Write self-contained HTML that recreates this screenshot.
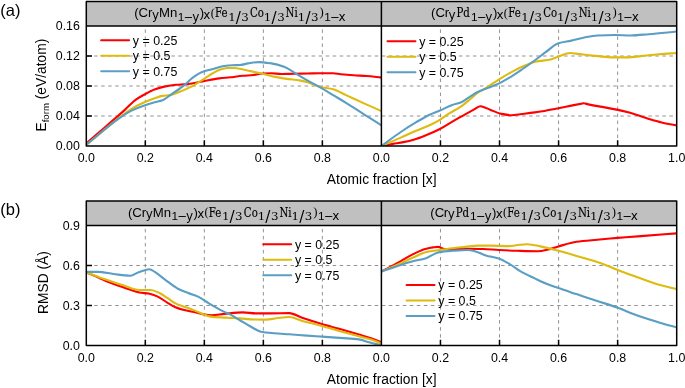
<!DOCTYPE html><html><head><meta charset="utf-8"><title>figure</title>
<style>html,body{margin:0;padding:0;background:#fff}svg{display:block}text{font-family:"Liberation Sans",Arial,sans-serif;fill:#000}</style></head><body>
<svg width="685" height="388" viewBox="0 0 685 388">
<rect width="685" height="388" fill="#fff"/>
<defs>
<clipPath id="aL"><rect x="86.3" y="26.0" width="295.09999999999997" height="120.0"/></clipPath>
<clipPath id="aR"><rect x="381.4" y="26.0" width="295.30000000000007" height="120.0"/></clipPath>
<clipPath id="bL"><rect x="86.3" y="225.5" width="295.09999999999997" height="120.0"/></clipPath>
<clipPath id="bR"><rect x="381.4" y="225.5" width="295.30000000000007" height="120.0"/></clipPath>
</defs>
<rect x="86.3" y="1.5" width="590.4000000000001" height="24.5" fill="#C0C0C0"/>
<path d="M145.32,146.0V26.0 M204.34,146.0V26.0 M263.36,146.0V26.0 M322.38,146.0V26.0 M440.46,146.0V26.0 M499.52,146.0V26.0 M558.58,146.0V26.0 M617.64,146.0V26.0 M86.3,116.00H676.7 M86.3,86.00H676.7 M86.3,56.00H676.7" stroke="#777" stroke-width="0.8" stroke-dasharray="3.5 3.515" stroke-dashoffset="-0.85" fill="none"/>
<path d="M86.30,143.40C90.87,139.47 95.43,135.55 100.00,131.60C105.83,126.56 111.67,121.55 117.50,116.40C120.03,114.16 122.57,111.90 125.10,109.60C128.70,106.33 132.30,102.21 135.90,99.60C138.83,97.47 141.77,95.91 144.70,94.30C147.97,92.51 151.23,90.59 154.50,89.40C157.77,88.21 161.03,87.26 164.30,86.60C168.20,85.81 172.10,85.17 176.00,84.80C179.33,84.48 182.67,84.41 186.00,84.10C189.33,83.79 192.67,83.25 196.00,82.70C198.57,82.28 201.13,81.68 203.70,81.20C208.87,80.23 214.03,79.06 219.20,78.40C222.80,77.94 226.40,77.69 230.00,77.30C234.30,76.83 238.60,76.20 242.90,75.80C246.33,75.48 249.77,75.35 253.20,75.00C256.63,74.65 260.07,73.71 263.50,73.50C266.07,73.35 268.63,73.20 271.20,73.20C274.63,73.20 278.07,74.00 281.50,74.00C285.80,74.00 290.10,73.78 294.40,73.70C298.70,73.62 303.00,73.58 307.30,73.50C311.60,73.42 315.90,73.20 320.20,73.20C324.50,73.20 328.80,73.20 333.10,73.20C335.67,73.20 338.23,73.93 340.80,74.20C345.10,74.65 349.40,75.01 353.70,75.30C358.00,75.59 362.30,75.69 366.60,76.00C371.53,76.35 376.47,77.07 381.40,77.60" fill="none" stroke="#FF0000" stroke-width="2.1" stroke-linejoin="round" clip-path="url(#aL)"/>
<path d="M86.30,145.00C97.43,135.80 108.57,125.94 119.70,117.40C123.63,114.38 127.57,111.15 131.50,108.80C135.80,106.23 140.10,104.20 144.40,102.30C147.83,100.78 151.27,99.36 154.70,98.20C157.30,97.33 159.90,96.30 162.50,95.90C165.07,95.51 167.63,95.51 170.20,95.10C172.77,94.69 175.33,93.46 177.90,92.50C182.20,90.88 186.50,89.07 190.80,86.90C195.10,84.73 199.40,81.65 203.70,79.10C208.87,76.04 214.03,71.94 219.20,70.10C221.77,69.18 224.33,68.00 226.90,68.00C229.47,68.00 232.03,68.00 234.60,68.00C236.33,68.00 238.07,68.50 239.80,68.80C243.40,69.43 247.00,70.31 250.60,71.10C254.90,72.04 259.20,73.00 263.50,74.00C267.80,75.00 272.10,76.23 276.40,77.10C279.83,77.79 283.27,78.42 286.70,78.90C291.00,79.51 295.30,79.71 299.60,80.40C302.17,80.81 304.73,81.48 307.30,82.20C311.60,83.40 315.90,85.87 320.20,86.90C324.50,87.93 328.80,88.10 333.10,89.20C337.40,90.30 341.70,93.13 346.00,95.10C352.00,97.85 358.00,100.69 364.00,103.40C369.80,106.02 375.60,108.53 381.40,111.10" fill="none" stroke="#DDBB10" stroke-width="2.1" stroke-linejoin="round" clip-path="url(#aL)"/>
<path d="M86.30,144.60C97.43,135.70 108.57,125.51 119.70,117.90C123.63,115.21 127.57,112.53 131.50,110.60C135.80,108.49 140.10,106.87 144.40,105.40C147.83,104.22 151.27,103.25 154.70,102.30C157.30,101.58 159.90,101.27 162.50,100.30C165.07,99.35 167.63,96.86 170.20,95.10C174.50,92.15 178.80,89.45 183.10,86.10C186.53,83.43 189.97,79.55 193.40,77.10C195.97,75.27 198.53,73.41 201.10,72.40C205.40,70.70 209.70,69.98 214.00,68.80C217.43,67.85 220.87,66.46 224.30,66.00C226.87,65.66 229.43,65.43 232.00,65.30C234.77,65.16 237.53,65.17 240.30,65.00C242.87,64.84 245.43,63.81 248.00,63.40C251.47,62.85 254.93,62.10 258.40,62.10C262.67,62.10 266.93,62.77 271.20,63.40C275.50,64.03 279.80,65.23 284.10,66.80C287.53,68.06 290.97,70.69 294.40,72.70C298.70,75.21 303.00,77.96 307.30,80.40C311.60,82.84 315.90,84.96 320.20,87.40C324.50,89.84 328.80,92.53 333.10,95.10C337.40,97.67 341.70,100.14 346.00,102.80C352.00,106.51 358.00,110.59 364.00,114.40C369.80,118.08 375.60,121.67 381.40,125.30" fill="none" stroke="#5A9EC4" stroke-width="2.1" stroke-linejoin="round" clip-path="url(#aL)"/>
<path d="M381.40,146.00C385.27,145.30 389.13,144.58 393.00,143.90C396.47,143.29 399.93,142.79 403.40,142.10C406.83,141.42 410.27,140.67 413.70,139.70C417.97,138.49 422.23,136.72 426.50,135.00C430.80,133.26 435.10,131.39 439.40,129.20C443.70,127.01 448.00,124.08 452.30,121.60C456.60,119.12 460.90,116.65 465.20,114.30C467.77,112.90 470.33,111.67 472.90,110.20C474.70,109.17 476.50,107.67 478.30,106.90C478.97,106.62 479.63,106.20 480.30,106.20C481.07,106.20 481.83,106.50 482.60,106.70C485.27,107.41 487.93,108.87 490.60,109.90C494.03,111.22 497.47,112.98 500.90,113.70C504.33,114.42 507.77,115.20 511.20,115.20C514.77,115.20 518.33,114.42 521.90,114.00C526.20,113.49 530.50,113.01 534.80,112.40C536.70,112.13 538.60,111.82 540.50,111.50C546.50,110.49 552.50,109.36 558.50,108.20C562.80,107.37 567.10,106.45 571.40,105.60C575.13,104.87 578.87,104.20 582.60,103.45C583.00,103.37 583.40,103.20 583.80,103.20C584.20,103.20 584.60,103.40 585.00,103.50C587.33,104.06 589.67,104.63 592.00,105.10C595.43,105.79 598.87,106.25 602.30,106.90C610.90,108.52 619.50,110.11 628.10,112.30C634.10,113.83 640.10,116.21 646.10,118.00C651.27,119.54 656.43,121.19 661.60,122.40C666.63,123.58 671.67,124.40 676.70,125.40" fill="none" stroke="#FF0000" stroke-width="2.1" stroke-linejoin="round" clip-path="url(#aR)"/>
<path d="M381.40,146.00C387.87,143.20 394.33,140.45 400.80,137.60C405.93,135.34 411.07,132.92 416.20,130.70C421.37,128.46 426.53,126.66 431.70,124.20C434.27,122.98 436.83,121.62 439.40,120.10C442.83,118.06 446.27,115.22 449.70,113.10C453.17,110.96 456.63,109.50 460.10,107.20C463.53,104.92 466.97,101.82 470.40,99.00C472.97,96.89 475.53,94.25 478.10,92.50C480.67,90.75 483.23,89.66 485.80,88.10C490.10,85.48 494.40,82.26 498.70,79.60C503.87,76.40 509.03,73.27 514.20,70.60C517.80,68.74 521.40,66.97 525.00,65.50C528.43,64.10 531.87,62.56 535.30,61.80C540.47,60.65 545.63,60.58 550.80,59.40C553.37,58.82 555.93,57.46 558.50,56.60C562.37,55.30 566.23,53.00 570.10,53.00C573.10,53.00 576.10,53.65 579.10,54.00C583.40,54.50 587.70,55.13 592.00,55.60C595.43,55.97 598.87,56.34 602.30,56.60C606.60,56.93 610.90,57.40 615.20,57.40C619.50,57.40 623.80,57.40 628.10,57.40C632.40,57.40 636.70,56.53 641.00,56.10C647.00,55.50 653.00,54.81 659.00,54.30C664.90,53.80 670.80,53.43 676.70,53.00" fill="none" stroke="#DDBB10" stroke-width="2.1" stroke-linejoin="round" clip-path="url(#aR)"/>
<path d="M381.40,146.00C387.87,141.33 394.33,136.36 400.80,132.00C405.93,128.54 411.07,125.25 416.20,122.20C420.50,119.65 424.80,117.01 429.10,115.00C432.53,113.39 435.97,112.28 439.40,110.80C443.70,108.95 448.00,106.40 452.30,104.90C455.30,103.85 458.30,103.50 461.30,102.30C464.33,101.09 467.37,98.28 470.40,96.40C472.97,94.81 475.53,93.03 478.10,91.80C480.67,90.57 483.23,89.70 485.80,88.70C489.23,87.36 492.67,86.31 496.10,84.80C500.40,82.91 504.70,80.43 509.00,77.90C513.30,75.37 517.60,72.42 521.90,69.50C526.37,66.47 530.83,63.28 535.30,60.00C538.73,57.48 542.17,54.70 545.60,52.20C549.90,49.07 554.20,44.54 558.50,43.20C562.80,41.86 567.10,41.54 571.40,40.60C575.70,39.66 580.00,38.31 584.30,37.50C588.60,36.69 592.90,35.71 597.20,35.50C603.20,35.21 609.20,35.00 615.20,35.00C620.37,35.00 625.53,35.50 630.70,35.50C636.70,35.50 642.70,34.69 648.70,34.20C658.03,33.44 667.37,32.40 676.70,31.50" fill="none" stroke="#5A9EC4" stroke-width="2.1" stroke-linejoin="round" clip-path="url(#aR)"/>
<path d="M145.32,146.0v-5.7 M204.34,146.0v-5.7 M263.36,146.0v-5.7 M322.38,146.0v-5.7 M440.46,146.0v-5.7 M499.52,146.0v-5.7 M558.58,146.0v-5.7 M617.64,146.0v-5.7 M86.3,116.00h5.7 M86.3,86.00h5.7 M86.3,56.00h5.7" stroke="#000" stroke-width="1.5" fill="none"/>
<path d="M86.3,1.5H676.7V146.0H86.3Z M86.3,26.0H676.7 M381.4,1.5V146.0" stroke="#000" stroke-width="1.5" fill="none" stroke-linejoin="round"/>
<text x="79.9" y="150.30" text-anchor="end" font-size="12.4">0.00</text>
<text x="79.9" y="120.30" text-anchor="end" font-size="12.4">0.04</text>
<text x="79.9" y="90.30" text-anchor="end" font-size="12.4">0.08</text>
<text x="79.9" y="60.30" text-anchor="end" font-size="12.4">0.12</text>
<text x="79.9" y="30.30" text-anchor="end" font-size="12.4">0.16</text>
<text x="86.30" y="162.10" text-anchor="middle" font-size="12.4">0.0</text>
<text x="145.32" y="162.10" text-anchor="middle" font-size="12.4">0.2</text>
<text x="204.34" y="162.10" text-anchor="middle" font-size="12.4">0.4</text>
<text x="263.36" y="162.10" text-anchor="middle" font-size="12.4">0.6</text>
<text x="322.38" y="162.10" text-anchor="middle" font-size="12.4">0.8</text>
<text x="381.40" y="162.10" text-anchor="middle" font-size="12.4">0.0</text>
<text x="440.46" y="162.10" text-anchor="middle" font-size="12.4">0.2</text>
<text x="499.52" y="162.10" text-anchor="middle" font-size="12.4">0.4</text>
<text x="558.58" y="162.10" text-anchor="middle" font-size="12.4">0.6</text>
<text x="617.64" y="162.10" text-anchor="middle" font-size="12.4">0.8</text>
<text x="676.70" y="162.10" text-anchor="middle" font-size="12.4">1.0</text>
<text x="381.7" y="184.40" text-anchor="middle" font-size="13.8">Atomic fraction [x]</text>
<text><tspan x="134.18" y="17.10" font-family="Liberation Sans, Arial, sans-serif" font-size="13.2">(C</tspan><tspan x="147.93" y="17.10" font-family="Liberation Sans, Arial, sans-serif" font-size="13.2">r</tspan><tspan x="151.94" y="18.80" font-family="DejaVu Sans, sans-serif" font-size="12">y</tspan><tspan x="158.92" y="17.10" font-family="Liberation Sans, Arial, sans-serif" font-size="13.2">Mn</tspan><tspan x="177.75" y="20.90" font-family="Liberation Sans, Arial, sans-serif" font-size="11.8">1</tspan><tspan x="183.78" y="20.90" font-family="DejaVu Sans, sans-serif" font-size="11.5">−</tspan><tspan x="192.14" y="20.90" font-family="DejaVu Sans, sans-serif" font-size="12">y</tspan><tspan x="199.82" y="17.10" font-family="Liberation Sans, Arial, sans-serif" font-size="13.2">)</tspan><tspan x="203.35" y="18.80" font-family="DejaVu Sans, sans-serif" font-size="12">x</tspan><tspan x="210.76" y="16.50" font-family="Liberation Serif, serif" font-size="12.2">(</tspan><tspan x="235.80" y="22.60" font-family="DejaVu Sans, sans-serif" font-size="15.2">/</tspan><tspan x="271.40" y="22.60" font-family="DejaVu Sans, sans-serif" font-size="15.2">/</tspan><tspan x="305.50" y="22.60" font-family="DejaVu Sans, sans-serif" font-size="15.2">/</tspan><tspan x="319.49" y="16.30" font-family="Liberation Serif, serif" font-size="12.7">)</tspan><tspan x="324.20" y="20.90" font-family="Liberation Sans, Arial, sans-serif" font-size="11.8">1</tspan><tspan x="330.18" y="20.90" font-family="DejaVu Sans, sans-serif" font-size="11.5">−</tspan><tspan x="338.55" y="20.90" font-family="DejaVu Sans, sans-serif" font-size="12">x</tspan></text><text transform="translate(215.04,17.10) scale(0.81,1)" style="font-family:DejaVu Serif, serif" font-size="12.6" stroke="#000" stroke-width="0.18">Fe</text><text transform="translate(228.26,20.90) scale(1,1.0)" style="font-family:DejaVu Serif, serif" font-size="11.8">1</text><text transform="translate(241.30,20.90) scale(1,1.0)" style="font-family:DejaVu Serif, serif" font-size="11.8">3</text><text transform="translate(250.03,17.10) scale(0.81,1)" style="font-family:DejaVu Serif, serif" font-size="12.6" stroke="#000" stroke-width="0.18">Co</text><text transform="translate(263.86,20.90) scale(1,1.0)" style="font-family:DejaVu Serif, serif" font-size="11.8">1</text><text transform="translate(277.20,20.90) scale(1,1.0)" style="font-family:DejaVu Serif, serif" font-size="11.8">3</text><text transform="translate(285.60,17.10) scale(0.81,1)" style="font-family:DejaVu Serif, serif" font-size="12.6" stroke="#000" stroke-width="0.18">Ni</text><text transform="translate(297.66,20.90) scale(1,1.0)" style="font-family:DejaVu Serif, serif" font-size="11.8">1</text><text transform="translate(310.90,20.90) scale(1,1.0)" style="font-family:DejaVu Serif, serif" font-size="11.8">3</text>
<text><tspan x="431.08" y="17.10" font-family="Liberation Sans, Arial, sans-serif" font-size="13.2">(C</tspan><tspan x="444.63" y="17.10" font-family="Liberation Sans, Arial, sans-serif" font-size="13.2">r</tspan><tspan x="448.54" y="18.80" font-family="DejaVu Sans, sans-serif" font-size="12">y</tspan><tspan x="470.90" y="20.90" font-family="Liberation Sans, Arial, sans-serif" font-size="11.8">1</tspan><tspan x="476.88" y="20.90" font-family="DejaVu Sans, sans-serif" font-size="11.5">−</tspan><tspan x="485.24" y="20.90" font-family="DejaVu Sans, sans-serif" font-size="12">y</tspan><tspan x="492.92" y="17.10" font-family="Liberation Sans, Arial, sans-serif" font-size="13.2">)</tspan><tspan x="496.45" y="18.80" font-family="DejaVu Sans, sans-serif" font-size="12">x</tspan><tspan x="503.86" y="16.50" font-family="Liberation Serif, serif" font-size="12.2">(</tspan><tspan x="528.90" y="22.60" font-family="DejaVu Sans, sans-serif" font-size="15.2">/</tspan><tspan x="564.50" y="22.60" font-family="DejaVu Sans, sans-serif" font-size="15.2">/</tspan><tspan x="598.60" y="22.60" font-family="DejaVu Sans, sans-serif" font-size="15.2">/</tspan><tspan x="612.59" y="16.30" font-family="Liberation Serif, serif" font-size="12.7">)</tspan><tspan x="617.30" y="20.90" font-family="Liberation Sans, Arial, sans-serif" font-size="11.8">1</tspan><tspan x="623.28" y="20.90" font-family="DejaVu Sans, sans-serif" font-size="11.5">−</tspan><tspan x="631.65" y="20.90" font-family="DejaVu Sans, sans-serif" font-size="12">x</tspan></text><text transform="translate(456.44,17.10) scale(0.81,1)" style="font-family:DejaVu Serif, serif" font-size="12.6" stroke="#000" stroke-width="0.18">Pd</text><text transform="translate(508.14,17.10) scale(0.81,1)" style="font-family:DejaVu Serif, serif" font-size="12.6" stroke="#000" stroke-width="0.18">Fe</text><text transform="translate(521.36,20.90) scale(1,1.0)" style="font-family:DejaVu Serif, serif" font-size="11.8">1</text><text transform="translate(534.40,20.90) scale(1,1.0)" style="font-family:DejaVu Serif, serif" font-size="11.8">3</text><text transform="translate(543.13,17.10) scale(0.81,1)" style="font-family:DejaVu Serif, serif" font-size="12.6" stroke="#000" stroke-width="0.18">Co</text><text transform="translate(556.96,20.90) scale(1,1.0)" style="font-family:DejaVu Serif, serif" font-size="11.8">1</text><text transform="translate(570.30,20.90) scale(1,1.0)" style="font-family:DejaVu Serif, serif" font-size="11.8">3</text><text transform="translate(578.70,17.10) scale(0.81,1)" style="font-family:DejaVu Serif, serif" font-size="12.6" stroke="#000" stroke-width="0.18">Ni</text><text transform="translate(590.76,20.90) scale(1,1.0)" style="font-family:DejaVu Serif, serif" font-size="11.8">1</text><text transform="translate(604.00,20.90) scale(1,1.0)" style="font-family:DejaVu Serif, serif" font-size="11.8">3</text>
<text x="0.3" y="15.60" font-size="16.5">(a)</text>
<rect x="86.3" y="201.0" width="590.4000000000001" height="24.5" fill="#C0C0C0"/>
<path d="M145.32,345.5V225.5 M204.34,345.5V225.5 M263.36,345.5V225.5 M322.38,345.5V225.5 M440.46,345.5V225.5 M499.52,345.5V225.5 M558.58,345.5V225.5 M617.64,345.5V225.5 M86.3,305.50H676.7 M86.3,265.50H676.7" stroke="#777" stroke-width="0.8" stroke-dasharray="3.5 3.515" stroke-dashoffset="-0.85" fill="none"/>
<path d="M86.30,272.20C92.80,275.10 99.30,278.31 105.80,280.90C111.80,283.29 117.80,285.34 123.80,287.40C128.97,289.18 134.13,291.58 139.30,292.50C142.73,293.11 146.17,293.15 149.60,293.80C152.17,294.28 154.73,295.29 157.30,296.40C160.73,297.88 164.17,300.77 167.60,302.80C170.20,304.33 172.80,306.10 175.40,307.20C177.97,308.28 180.53,309.11 183.10,309.80C187.40,310.96 191.70,311.63 196.00,312.60C198.57,313.18 201.13,314.03 203.70,314.40C206.27,314.77 208.83,315.20 211.40,315.20C215.70,315.20 220.00,314.29 224.30,313.90C230.50,313.34 236.70,312.40 242.90,312.40C247.20,312.40 251.50,313.40 255.80,313.40C260.93,313.40 266.07,313.40 271.20,313.40C277.23,313.40 283.27,313.10 289.30,313.10C293.60,313.10 297.90,316.34 302.20,317.80C308.20,319.84 314.20,321.71 320.20,323.50C326.20,325.29 332.20,326.90 338.20,328.60C345.10,330.56 352.00,332.47 358.90,334.50C363.20,335.76 367.50,336.92 371.80,338.40C375.00,339.50 378.20,340.93 381.40,342.20" fill="none" stroke="#FF0000" stroke-width="2.1" stroke-linejoin="round" clip-path="url(#bL)"/>
<path d="M86.30,272.20C92.80,274.67 99.30,277.30 105.80,279.60C111.80,281.73 117.80,283.76 123.80,285.60C128.97,287.18 134.13,290.00 139.30,290.00C143.17,290.00 147.03,290.00 150.90,290.00C153.90,290.00 156.90,291.89 159.90,293.30C162.47,294.50 165.03,296.53 167.60,298.20C170.20,299.89 172.80,302.15 175.40,303.40C178.83,305.05 182.27,305.92 185.70,307.20C189.13,308.48 192.57,309.72 196.00,311.10C198.57,312.14 201.13,313.46 203.70,314.40C206.00,315.24 208.30,316.32 210.60,316.60C215.47,317.19 220.33,317.30 225.20,317.60C230.07,317.90 234.93,318.09 239.80,318.40C244.67,318.71 249.53,319.43 254.40,319.50C258.30,319.56 262.20,319.60 266.10,319.60C269.53,319.60 272.97,318.69 276.40,318.30C280.70,317.82 285.00,317.00 289.30,317.00C293.60,317.00 297.90,319.70 302.20,320.90C308.20,322.57 314.20,323.87 320.20,325.50C326.20,327.13 332.20,329.02 338.20,330.70C345.10,332.63 352.00,334.46 358.90,336.30C363.20,337.45 367.50,338.33 371.80,339.70C375.00,340.72 378.20,342.23 381.40,343.50" fill="none" stroke="#DDBB10" stroke-width="2.1" stroke-linejoin="round" clip-path="url(#bL)"/>
<path d="M86.30,271.90C90.20,271.90 94.10,271.90 98.00,271.90C103.17,271.90 108.33,273.38 113.50,274.00C119.10,274.67 124.70,275.80 130.30,275.80C133.30,275.80 136.30,272.86 139.30,271.90C142.73,270.80 146.17,269.30 149.60,269.30C151.30,269.30 153.00,270.89 154.70,271.90C158.13,273.94 161.57,277.11 165.00,279.60C169.30,282.72 173.60,286.47 177.90,288.70C181.33,290.48 184.77,291.64 188.20,293.00C191.67,294.37 195.13,295.27 198.60,296.90C202.03,298.52 205.47,301.37 208.90,303.40C214.03,306.44 219.17,309.43 224.30,311.90C226.20,312.81 228.10,313.46 230.00,314.40C233.43,316.11 236.87,318.48 240.30,320.50C243.73,322.52 247.17,324.64 250.60,326.50C254.03,328.36 257.47,331.04 260.90,331.70C265.20,332.53 269.50,332.82 273.80,333.20C278.97,333.66 284.13,333.93 289.30,334.30C295.30,334.73 301.30,335.17 307.30,335.60C313.33,336.03 319.37,336.48 325.40,336.90C331.40,337.31 337.40,337.65 343.40,338.10C348.57,338.48 353.73,338.71 358.90,339.40C362.33,339.86 365.77,341.37 369.20,342.30C373.27,343.41 377.33,344.43 381.40,345.50" fill="none" stroke="#5A9EC4" stroke-width="2.1" stroke-linejoin="round" clip-path="url(#bL)"/>
<path d="M381.40,271.60C387.87,268.10 394.33,264.66 400.80,261.10C405.10,258.73 409.40,255.96 413.70,253.90C417.57,252.05 421.43,250.05 425.30,249.00C427.87,248.30 430.43,247.73 433.00,247.40C434.70,247.18 436.40,246.90 438.10,246.90C440.27,246.90 442.43,249.00 444.60,249.00C448.03,249.00 451.47,249.00 454.90,249.00C459.20,249.00 463.50,248.70 467.80,248.70C472.93,248.70 478.07,248.85 483.20,249.00C488.37,249.15 493.53,249.73 498.70,250.00C504.73,250.32 510.77,250.61 516.80,250.80C523.83,251.02 530.87,251.30 537.90,251.30C541.33,251.30 544.77,250.26 548.20,249.50C551.63,248.74 555.07,247.36 558.50,246.40C564.50,244.73 570.50,242.68 576.50,241.80C583.40,240.79 590.30,240.35 597.20,239.70C604.07,239.06 610.93,238.47 617.80,237.90C625.53,237.26 633.27,236.69 641.00,236.10C652.90,235.19 664.80,234.30 676.70,233.40" fill="none" stroke="#FF0000" stroke-width="2.1" stroke-linejoin="round" clip-path="url(#bR)"/>
<path d="M381.40,271.60C387.87,268.77 394.33,266.00 400.80,263.10C405.10,261.17 409.40,259.03 413.70,257.20C417.97,255.38 422.23,253.09 426.50,252.10C430.80,251.11 435.10,250.65 439.40,250.00C443.70,249.35 448.00,248.70 452.30,248.20C456.60,247.70 460.90,247.33 465.20,246.90C469.50,246.47 473.80,245.60 478.10,245.60C482.40,245.60 486.70,245.60 491.00,245.60C497.00,245.60 503.00,246.10 509.00,246.10C512.43,246.10 515.87,245.09 519.30,244.80C521.90,244.58 524.50,244.30 527.10,244.30C529.67,244.30 532.23,244.81 534.80,245.20C536.70,245.49 538.60,245.98 540.50,246.40C546.50,247.74 552.50,249.23 558.50,250.80C564.50,252.37 570.50,254.15 576.50,255.90C585.10,258.41 593.70,260.66 602.30,263.70C607.47,265.53 612.63,268.09 617.80,270.10C625.53,273.11 633.27,275.86 641.00,278.60C647.00,280.73 653.00,283.11 659.00,284.80C664.90,286.46 670.80,287.60 676.70,289.00" fill="none" stroke="#DDBB10" stroke-width="2.1" stroke-linejoin="round" clip-path="url(#bR)"/>
<path d="M381.40,271.60C387.87,269.37 394.33,266.95 400.80,264.90C405.10,263.54 409.40,262.19 413.70,261.10C417.57,260.12 421.43,259.73 425.30,258.50C427.87,257.68 430.43,255.73 433.00,254.60C435.13,253.66 437.27,252.47 439.40,252.10C443.70,251.36 448.00,251.10 452.30,250.80C457.47,250.44 462.63,250.00 467.80,250.00C470.37,250.00 472.93,250.85 475.50,251.50C478.93,252.37 482.37,254.38 485.80,255.40C490.10,256.67 494.40,257.08 498.70,258.50C502.13,259.63 505.57,261.75 509.00,263.70C513.30,266.15 517.60,269.81 521.90,272.20C526.20,274.59 530.50,276.31 534.80,278.40C536.70,279.32 538.60,280.36 540.50,281.20C546.50,283.84 552.50,285.96 558.50,288.10C564.50,290.24 570.50,292.10 576.50,294.10C583.40,296.40 590.30,298.73 597.20,301.00C604.07,303.26 610.93,305.20 617.80,307.70C622.07,309.25 626.33,311.28 630.60,312.90C636.63,315.19 642.67,317.33 648.70,319.30C652.97,320.69 657.23,321.96 661.50,323.20C666.57,324.67 671.63,326.00 676.70,327.40" fill="none" stroke="#5A9EC4" stroke-width="2.1" stroke-linejoin="round" clip-path="url(#bR)"/>
<path d="M145.32,345.5v-5.7 M204.34,345.5v-5.7 M263.36,345.5v-5.7 M322.38,345.5v-5.7 M440.46,345.5v-5.7 M499.52,345.5v-5.7 M558.58,345.5v-5.7 M617.64,345.5v-5.7 M86.3,305.50h5.7 M86.3,265.50h5.7" stroke="#000" stroke-width="1.5" fill="none"/>
<path d="M86.3,201.0H676.7V345.5H86.3Z M86.3,225.5H676.7 M381.4,201.0V345.5" stroke="#000" stroke-width="1.5" fill="none" stroke-linejoin="round"/>
<text x="79.9" y="349.80" text-anchor="end" font-size="12.4">0.0</text>
<text x="79.9" y="309.80" text-anchor="end" font-size="12.4">0.3</text>
<text x="79.9" y="269.80" text-anchor="end" font-size="12.4">0.6</text>
<text x="79.9" y="229.80" text-anchor="end" font-size="12.4">0.9</text>
<text x="86.30" y="361.60" text-anchor="middle" font-size="12.4">0.0</text>
<text x="145.32" y="361.60" text-anchor="middle" font-size="12.4">0.2</text>
<text x="204.34" y="361.60" text-anchor="middle" font-size="12.4">0.4</text>
<text x="263.36" y="361.60" text-anchor="middle" font-size="12.4">0.6</text>
<text x="322.38" y="361.60" text-anchor="middle" font-size="12.4">0.8</text>
<text x="381.40" y="361.60" text-anchor="middle" font-size="12.4">0.0</text>
<text x="440.46" y="361.60" text-anchor="middle" font-size="12.4">0.2</text>
<text x="499.52" y="361.60" text-anchor="middle" font-size="12.4">0.4</text>
<text x="558.58" y="361.60" text-anchor="middle" font-size="12.4">0.6</text>
<text x="617.64" y="361.60" text-anchor="middle" font-size="12.4">0.8</text>
<text x="676.70" y="361.60" text-anchor="middle" font-size="12.4">1.0</text>
<text x="381.7" y="383.90" text-anchor="middle" font-size="13.8">Atomic fraction [x]</text>
<text><tspan x="127.98" y="216.60" font-family="Liberation Sans, Arial, sans-serif" font-size="13.2">(C</tspan><tspan x="141.73" y="216.60" font-family="Liberation Sans, Arial, sans-serif" font-size="13.2">r</tspan><tspan x="145.74" y="218.30" font-family="DejaVu Sans, sans-serif" font-size="12">y</tspan><tspan x="152.72" y="216.60" font-family="Liberation Sans, Arial, sans-serif" font-size="13.2">Mn</tspan><tspan x="171.55" y="220.40" font-family="Liberation Sans, Arial, sans-serif" font-size="11.8">1</tspan><tspan x="177.58" y="220.40" font-family="DejaVu Sans, sans-serif" font-size="11.5">−</tspan><tspan x="185.94" y="220.40" font-family="DejaVu Sans, sans-serif" font-size="12">y</tspan><tspan x="193.62" y="216.60" font-family="Liberation Sans, Arial, sans-serif" font-size="13.2">)</tspan><tspan x="197.15" y="218.30" font-family="DejaVu Sans, sans-serif" font-size="12">x</tspan><tspan x="204.56" y="216.00" font-family="Liberation Serif, serif" font-size="12.2">(</tspan><tspan x="229.60" y="222.10" font-family="DejaVu Sans, sans-serif" font-size="15.2">/</tspan><tspan x="265.20" y="222.10" font-family="DejaVu Sans, sans-serif" font-size="15.2">/</tspan><tspan x="299.30" y="222.10" font-family="DejaVu Sans, sans-serif" font-size="15.2">/</tspan><tspan x="313.29" y="215.80" font-family="Liberation Serif, serif" font-size="12.7">)</tspan><tspan x="318.00" y="220.40" font-family="Liberation Sans, Arial, sans-serif" font-size="11.8">1</tspan><tspan x="323.98" y="220.40" font-family="DejaVu Sans, sans-serif" font-size="11.5">−</tspan><tspan x="332.35" y="220.40" font-family="DejaVu Sans, sans-serif" font-size="12">x</tspan></text><text transform="translate(208.84,216.60) scale(0.81,1)" style="font-family:DejaVu Serif, serif" font-size="12.6" stroke="#000" stroke-width="0.18">Fe</text><text transform="translate(222.06,220.40) scale(1,1.0)" style="font-family:DejaVu Serif, serif" font-size="11.8">1</text><text transform="translate(235.10,220.40) scale(1,1.0)" style="font-family:DejaVu Serif, serif" font-size="11.8">3</text><text transform="translate(243.83,216.60) scale(0.81,1)" style="font-family:DejaVu Serif, serif" font-size="12.6" stroke="#000" stroke-width="0.18">Co</text><text transform="translate(257.66,220.40) scale(1,1.0)" style="font-family:DejaVu Serif, serif" font-size="11.8">1</text><text transform="translate(271.00,220.40) scale(1,1.0)" style="font-family:DejaVu Serif, serif" font-size="11.8">3</text><text transform="translate(279.40,216.60) scale(0.81,1)" style="font-family:DejaVu Serif, serif" font-size="12.6" stroke="#000" stroke-width="0.18">Ni</text><text transform="translate(291.46,220.40) scale(1,1.0)" style="font-family:DejaVu Serif, serif" font-size="11.8">1</text><text transform="translate(304.70,220.40) scale(1,1.0)" style="font-family:DejaVu Serif, serif" font-size="11.8">3</text>
<text><tspan x="430.28" y="216.60" font-family="Liberation Sans, Arial, sans-serif" font-size="13.2">(C</tspan><tspan x="443.83" y="216.60" font-family="Liberation Sans, Arial, sans-serif" font-size="13.2">r</tspan><tspan x="447.74" y="218.30" font-family="DejaVu Sans, sans-serif" font-size="12">y</tspan><tspan x="470.10" y="220.40" font-family="Liberation Sans, Arial, sans-serif" font-size="11.8">1</tspan><tspan x="476.08" y="220.40" font-family="DejaVu Sans, sans-serif" font-size="11.5">−</tspan><tspan x="484.44" y="220.40" font-family="DejaVu Sans, sans-serif" font-size="12">y</tspan><tspan x="492.12" y="216.60" font-family="Liberation Sans, Arial, sans-serif" font-size="13.2">)</tspan><tspan x="495.65" y="218.30" font-family="DejaVu Sans, sans-serif" font-size="12">x</tspan><tspan x="503.06" y="216.00" font-family="Liberation Serif, serif" font-size="12.2">(</tspan><tspan x="528.10" y="222.10" font-family="DejaVu Sans, sans-serif" font-size="15.2">/</tspan><tspan x="563.70" y="222.10" font-family="DejaVu Sans, sans-serif" font-size="15.2">/</tspan><tspan x="597.80" y="222.10" font-family="DejaVu Sans, sans-serif" font-size="15.2">/</tspan><tspan x="611.79" y="215.80" font-family="Liberation Serif, serif" font-size="12.7">)</tspan><tspan x="616.50" y="220.40" font-family="Liberation Sans, Arial, sans-serif" font-size="11.8">1</tspan><tspan x="622.48" y="220.40" font-family="DejaVu Sans, sans-serif" font-size="11.5">−</tspan><tspan x="630.85" y="220.40" font-family="DejaVu Sans, sans-serif" font-size="12">x</tspan></text><text transform="translate(455.64,216.60) scale(0.81,1)" style="font-family:DejaVu Serif, serif" font-size="12.6" stroke="#000" stroke-width="0.18">Pd</text><text transform="translate(507.34,216.60) scale(0.81,1)" style="font-family:DejaVu Serif, serif" font-size="12.6" stroke="#000" stroke-width="0.18">Fe</text><text transform="translate(520.56,220.40) scale(1,1.0)" style="font-family:DejaVu Serif, serif" font-size="11.8">1</text><text transform="translate(533.60,220.40) scale(1,1.0)" style="font-family:DejaVu Serif, serif" font-size="11.8">3</text><text transform="translate(542.33,216.60) scale(0.81,1)" style="font-family:DejaVu Serif, serif" font-size="12.6" stroke="#000" stroke-width="0.18">Co</text><text transform="translate(556.16,220.40) scale(1,1.0)" style="font-family:DejaVu Serif, serif" font-size="11.8">1</text><text transform="translate(569.50,220.40) scale(1,1.0)" style="font-family:DejaVu Serif, serif" font-size="11.8">3</text><text transform="translate(577.90,216.60) scale(0.81,1)" style="font-family:DejaVu Serif, serif" font-size="12.6" stroke="#000" stroke-width="0.18">Ni</text><text transform="translate(589.96,220.40) scale(1,1.0)" style="font-family:DejaVu Serif, serif" font-size="11.8">1</text><text transform="translate(603.20,220.40) scale(1,1.0)" style="font-family:DejaVu Serif, serif" font-size="11.8">3</text>
<text x="0.3" y="215.10" font-size="16.5">(b)</text>
<text transform="translate(46.4,85.1) rotate(-90)" text-anchor="middle" font-size="13.8">E<tspan font-size="9.65" dy="3">form</tspan><tspan dy="-3"> (eV/atom)</tspan></text>
<text transform="translate(48.0,282.6) rotate(-90)" text-anchor="middle" font-size="13.8">RMSD (Å)</text>
<path d="M101.20,40.20h27.9" stroke="#FF0000" stroke-width="2.1" stroke-linecap="round" fill="none"/>
<text x="132.85" y="44.60" font-size="12.4">y = 0.25</text>
<path d="M101.20,55.70h27.9" stroke="#DDBB10" stroke-width="2.1" stroke-linecap="round" fill="none"/>
<text x="132.85" y="60.10" font-size="12.4">y = 0.5</text>
<path d="M101.20,71.20h27.9" stroke="#5A9EC4" stroke-width="2.1" stroke-linecap="round" fill="none"/>
<text x="132.85" y="75.60" font-size="12.4">y = 0.75</text>
<path d="M387.50,41.30h27.9" stroke="#FF0000" stroke-width="2.1" stroke-linecap="round" fill="none"/>
<text x="419.15" y="45.70" font-size="12.4">y = 0.25</text>
<path d="M387.50,56.80h27.9" stroke="#DDBB10" stroke-width="2.1" stroke-linecap="round" fill="none"/>
<text x="419.15" y="61.20" font-size="12.4">y = 0.5</text>
<path d="M387.50,72.30h27.9" stroke="#5A9EC4" stroke-width="2.1" stroke-linecap="round" fill="none"/>
<text x="419.15" y="76.70" font-size="12.4">y = 0.75</text>
<path d="M263.30,244.20h27.9" stroke="#FF0000" stroke-width="2.1" stroke-linecap="round" fill="none"/>
<text x="294.95" y="248.60" font-size="12.4">y = 0.25</text>
<path d="M263.30,259.70h27.9" stroke="#DDBB10" stroke-width="2.1" stroke-linecap="round" fill="none"/>
<text x="294.95" y="264.10" font-size="12.4">y = 0.5</text>
<path d="M263.30,275.20h27.9" stroke="#5A9EC4" stroke-width="2.1" stroke-linecap="round" fill="none"/>
<text x="294.95" y="279.60" font-size="12.4">y = 0.75</text>
<path d="M406.60,285.00h27.9" stroke="#FF0000" stroke-width="2.1" stroke-linecap="round" fill="none"/>
<text x="438.25" y="289.40" font-size="12.4">y = 0.25</text>
<path d="M406.60,300.50h27.9" stroke="#DDBB10" stroke-width="2.1" stroke-linecap="round" fill="none"/>
<text x="438.25" y="304.90" font-size="12.4">y = 0.5</text>
<path d="M406.60,316.00h27.9" stroke="#5A9EC4" stroke-width="2.1" stroke-linecap="round" fill="none"/>
<text x="438.25" y="320.40" font-size="12.4">y = 0.75</text>
</svg></body></html>
